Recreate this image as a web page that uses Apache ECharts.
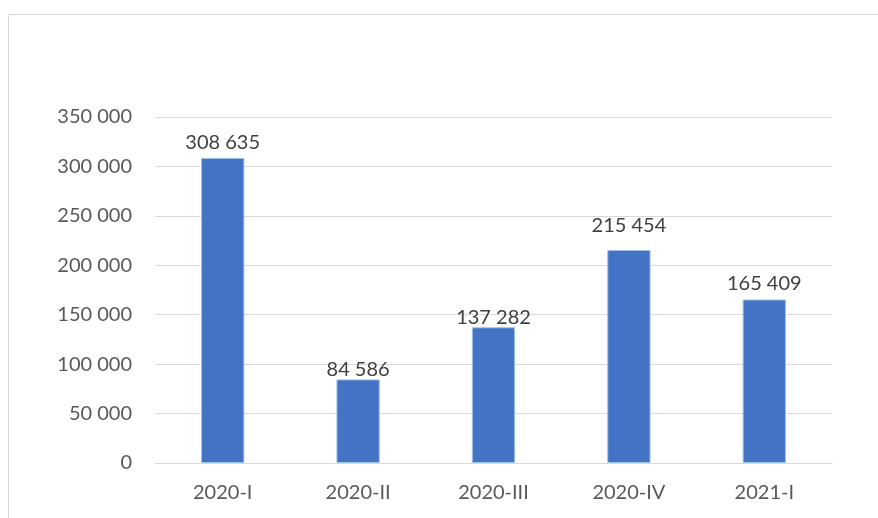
<!DOCTYPE html>
<html><head><meta charset="utf-8">
<script src="https://cdn.jsdelivr.net/npm/echarts@6/dist/echarts.min.js"></script>
<style>html,body{margin:0;padding:0;background:#fff}#c{width:878px;height:518px}</style>
</head><body><div id="c"></div>
<script>
const categories = ['2020-I', '2020-II', '2020-III', '2020-IV', '2021-I'];
const values = [308635, 84586, 137282, 215454, 165409];
const yMin = 0, yMax = 350000, yStep = 50000;

// label placement styling (not data)
const labelDistanceStyle = [5, 0, 0, 14, 6];

function fmt(v) { return String(v).replace(/\B(?=(\d{3})+(?!\d))/g, ' '); }

const chart = echarts.init(document.getElementById('c'), null, {renderer: 'canvas'});
chart.setOption({
  animation: false,
  backgroundColor: '#fff',
  textStyle: {fontFamily: 'Lato'},
  graphic: [{
    type: 'rect', shape: {x: 8.5, y: 14.5, width: 880, height: 520},
    style: {fill: 'none', stroke: '#d9d9d9', lineWidth: 1}, silent: true
  }],
  grid: {left: 155, right: 46, top: 117, bottom: 55},
  xAxis: {
    type: 'category', data: categories,
    axisLine: {lineStyle: {color: '#d9d9d9', width: 1}},
    axisTick: {show: false},
    axisLabel: {color: '#595959', fontSize: 20, margin: 20, fontFamily: 'Lato'}
  },
  yAxis: {
    type: 'value', min: yMin, max: yMax, interval: yStep,
    axisLine: {show: false}, axisTick: {show: false},
    splitLine: {lineStyle: {color: '#d9d9d9', width: 1}},
    axisLabel: {color: '#595959', fontSize: 20, margin: 23, fontFamily: 'Lato', formatter: fmt}
  },
  series: [{
    type: 'bar',
    data: values.map((v, i) => ({value: v, label: {distance: labelDistanceStyle[i]}})),
    barWidth: '32%',
    itemStyle: {color: '#4472C4', borderColor: '#9dc3e6', borderWidth: 1},
    label: {show: true, position: 'top', distance: 5, color: '#404040', fontSize: 20,
            fontFamily: 'Lato', formatter: p => fmt(p.value)}
  }]
});
</script></body></html>
